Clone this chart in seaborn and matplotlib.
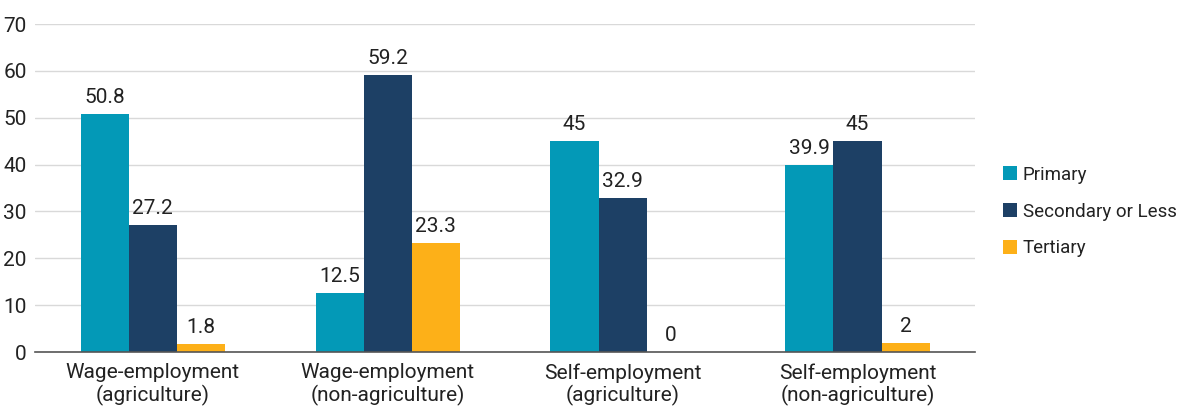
import matplotlib
matplotlib.use("Agg")
import matplotlib.pyplot as plt
import seaborn as sns
import pandas as pd

categories = ["Wage-employment\n(agriculture)", "Wage-employment\n(non-agriculture)",
              "Self-employment\n(agriculture)", "Self-employment\n(non-agriculture)"]
series = ["Primary", "Secondary or Less", "Tertiary"]
primary = [50.8, 12.5, 45, 39.9]
secondary = [27.2, 59.2, 32.9, 45]
tertiary = [1.8, 23.3, 0, 2]
colors = ["#0399B7", "#1D4065", "#FDB018"]

df = pd.DataFrame({
    "category": categories * 3,
    "level": [s for s in series for _ in categories],
    "value": primary + secondary + tertiary,
})

sns.set_style("white")
plt.rcParams["font.family"] = ["Roboto", "DejaVu Sans"]

fig = plt.figure(figsize=(11.88, 4.07), dpi=100)
ax = fig.add_axes([0.0295, 0.1351, 0.7912, 0.8059])

sns.barplot(data=df, x="category", y="value", hue="level", palette=colors,
            width=0.613, gap=0, saturation=1, linewidth=0, ax=ax, legend=True)

for cont in ax.containers:
    ax.bar_label(cont, labels=[f"{v:g}" for v in cont.datavalues], padding=5,
                 fontsize=15, color="#222222")

ax.set_ylim(0, 70)
ax.set_yticks(range(0, 71, 10))
ax.grid(axis="y", color="#d9d9d9", linewidth=1)
ax.set_axisbelow(True)
for s in ["top", "right", "left"]:
    ax.spines[s].set_visible(False)
ax.spines["bottom"].set_color("#555555")
ax.spines["bottom"].set_linewidth(1.2)
ax.tick_params(axis="both", length=0, labelsize=15, colors="#222222", pad=6)
ax.tick_params(axis="x", pad=8)
for t in ax.get_xticklabels():
    t.set_linespacing(1.15)
ax.set_xlabel("")
ax.set_ylabel("")

handles, labels = ax.get_legend_handles_labels()
ax.get_legend().remove()
fig.legend(handles, labels, loc="center left", bbox_to_anchor=(0.83, 0.48),
           frameon=False, fontsize=13.5, handlelength=0.75, handleheight=0.75,
           handletextpad=0.3, labelspacing=1.0, labelcolor="#222222")

fig.savefig("out.png", dpi=100)
